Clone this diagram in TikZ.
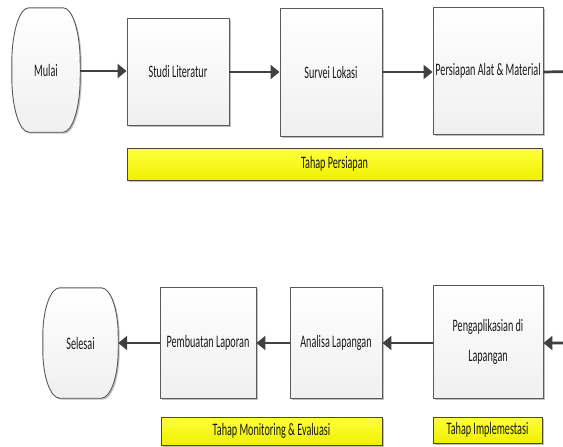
\documentclass[tikz,border=0pt]{standalone}
\usepackage{fontspec}
\setmainfont{Carlito}[FakeStretch=0.58]
\usetikzlibrary{arrows.meta,shadows}
\definecolor{edge}{RGB}{90,90,90}
\definecolor{arrowc}{RGB}{64,64,64}
\definecolor{txt}{RGB}{25,25,25}
\definecolor{ybar}{RGB}{240,240,0}
\definecolor{ybartop}{RGB}{255,255,60}
\tikzset{
  x=1pt, y=1pt,
  lbl/.style={font=\fontsize{17.5}{30}\selectfont, text=txt, align=center},
  boxshadow/.style={drop shadow={shadow xshift=1.5pt, shadow yshift=-1.5pt, fill=black, opacity=0.25}},
  procbox/.style={lbl, draw=edge, line width=0.9pt, top color=white, bottom color=black!6,
    boxshadow, inner sep=0pt},
  termtext/.style={lbl, draw=none, inner sep=0pt},
  termshape/.style={draw=edge, line width=0.9pt, top color=white, bottom color=black!6, boxshadow},
  phasebar/.style={lbl, draw=black!60!olive, line width=0.8pt, top color=ybartop, bottom color=ybar,
    boxshadow, inner sep=0pt},
  flow/.style={draw=arrowc, line width=2.7pt, -{Triangle[length=9pt,width=14pt]}},
}
\begin{document}
\begin{tikzpicture}
\useasboundingbox (0,0) rectangle (563,-447);
\clip (0,0) rectangle (563,-447);
\fill[white] (0,0) rectangle (563,-447);

% ---- terminator Mulai ----
\node[termtext, minimum width=68pt, minimum height=124pt] (mulai) at (46,-70) {};
\draw[termshape]
  ([xshift=17pt]mulai.north west) -- ([xshift=-17pt]mulai.north east)
  arc[start angle=90, end angle=0, x radius=17pt, y radius=55pt]
  -- ([yshift=55pt]mulai.south east)
  arc[start angle=0, end angle=-90, x radius=17pt, y radius=55pt]
  -- ([xshift=17pt]mulai.south west)
  arc[start angle=270, end angle=180, x radius=17pt, y radius=55pt]
  -- ([yshift=-55pt]mulai.north west)
  arc[start angle=180, end angle=90, x radius=17pt, y radius=55pt]
  -- cycle;
\node[termtext] at (mulai) {Mulai};

% ---- top row ----
\node[procbox, minimum width=102pt, minimum height=107pt] (studi) at (178,-71.5) {Studi Literatur};
\node[procbox, minimum width=102pt, minimum height=128pt] (survei) at (331,-72) {Survei Lokasi};
\node[procbox, minimum width=110pt, minimum height=127pt] (persiapan) at (488,-70.5) {Persiapan Alat \& Material};

\node[phasebar, minimum width=415pt, minimum height=32pt] (barpersiapan) at (334.5,-164) {Tahap Persiapan};

% ---- bottom row ----
\node[termtext, minimum width=75pt, minimum height=110pt] (selesai) at (80.5,-343) {};
\draw[termshape]
  ([xshift=17pt]selesai.north west) -- ([xshift=-17pt]selesai.north east)
  arc[start angle=90, end angle=0, x radius=17pt, y radius=48pt]
  -- ([yshift=48pt]selesai.south east)
  arc[start angle=0, end angle=-90, x radius=17pt, y radius=48pt]
  -- ([xshift=17pt]selesai.south west)
  arc[start angle=270, end angle=180, x radius=17pt, y radius=48pt]
  -- ([yshift=-48pt]selesai.north west)
  arc[start angle=180, end angle=90, x radius=17pt, y radius=48pt]
  -- cycle;
\node[termtext] at (selesai) {Selesai};

\node[procbox, minimum width=96pt, minimum height=111pt] (laporan) at (208,-342.5) {Pembuatan Laporan};
\node[procbox, minimum width=92pt, minimum height=111pt] (analisa) at (336,-342.5) {Analisa Lapangan};
\node[procbox, minimum width=110pt, minimum height=113pt] (aplikasi) at (488,-341.5) {Pengaplikasian di\\Lapangan};

\node[phasebar, minimum width=221pt, minimum height=28pt] (barmonitor) at (271.5,-431) {Tahap Monitoring \& Evaluasi};
\node[phasebar, minimum width=109pt, minimum height=26pt] (barimpl) at (487.5,-430) {Tahap Implemestasi};

% ---- connectors ----
\coordinate (turnA) at (600,-71);
\draw[flow] (mulai.east |- 0,-71) -- (studi.west |- 0,-71);
\draw[flow] (studi.east |- 0,-72) -- (survei.west |- 0,-72);
\draw[flow] (survei.east |- 0,-72) -- (persiapan.west |- 0,-72);
\draw[flow] (persiapan.east |- 0,-72) -- (turnA) |- (aplikasi.east |- 0,-343);
\draw[flow] (aplikasi.west |- 0,-343) -- (analisa.east |- 0,-343);
\draw[flow] (analisa.west |- 0,-343) -- (laporan.east |- 0,-343);
\draw[flow] (laporan.west |- 0,-343) -- (selesai.east |- 0,-343);
\end{tikzpicture}
\end{document}
